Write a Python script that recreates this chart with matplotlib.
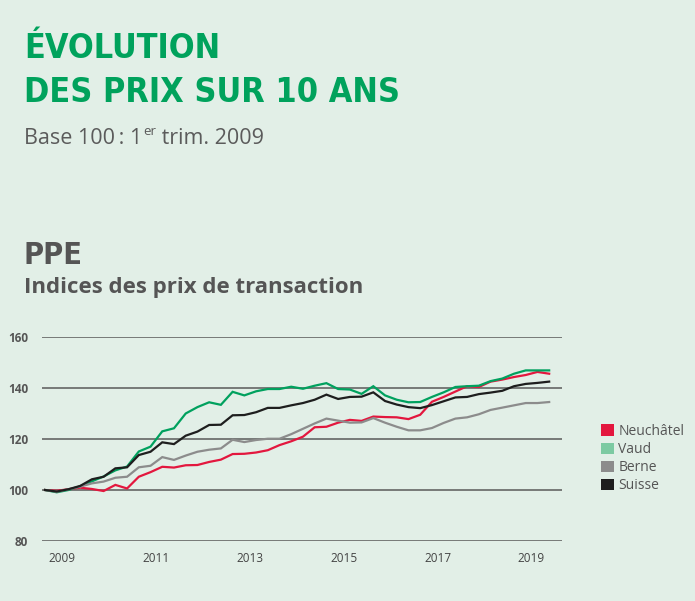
import numpy as np
import matplotlib.pyplot as plt
from matplotlib.patches import Patch
from matplotlib import font_manager

# Indices trimestriels, base 100 au 1er trim. 2009 (2009 T1 -> 2019 T4)
start_year = 2009
neuchatel = [100.0, 99.7, 100.3, 100.9, 100.4, 99.6, 102.0, 100.6, 105.2, 107.0,
             109.1, 108.8, 109.7, 109.8, 111.0, 111.9, 114.1, 114.2, 114.7, 115.6,
             117.6, 119.1, 120.9, 124.6, 124.8, 126.4, 127.5, 127.1, 128.8, 128.6,
             128.5, 127.8, 129.5, 134.6, 136.5, 138.6, 140.7, 140.4, 142.5, 143.3,
             144.3, 145.1, 146.3, 145.6]
vaud = [100.0, 99.1, 100.0, 101.5, 103.4, 105.3, 107.7, 109.2, 115.1, 117.0,
        123.0, 124.2, 130.0, 132.5, 134.4, 133.4, 138.5, 137.1, 138.7, 139.6,
        139.6, 140.5, 139.7, 140.9, 141.9, 139.6, 139.4, 137.7, 140.7, 137.1,
        135.4, 134.4, 134.5, 136.5, 138.3, 140.4, 140.7, 140.9, 142.7, 143.7,
        145.6, 146.9, 146.9, 146.9]
berne = [100.0, 99.3, 100.3, 101.3, 102.6, 103.3, 104.8, 105.2, 108.9, 109.5,
         112.9, 111.8, 113.5, 115.0, 115.8, 116.3, 119.7, 118.8, 119.6, 120.1,
         120.1, 121.9, 124.0, 126.1, 128.0, 127.2, 126.4, 126.5, 128.2, 126.4,
         124.8, 123.4, 123.4, 124.3, 126.3, 128.0, 128.5, 129.7, 131.4, 132.3,
         133.2, 134.1, 134.1, 134.5]
suisse = [100.0, 99.4, 100.3, 101.6, 104.2, 105.2, 108.5, 108.9, 113.7, 115.0,
          118.7, 118.0, 121.3, 122.9, 125.5, 125.6, 129.3, 129.4, 130.5, 132.2,
          132.2, 133.2, 134.1, 135.4, 137.4, 135.7, 136.5, 136.6, 138.3, 134.9,
          133.5, 132.5, 132.1, 133.3, 134.8, 136.3, 136.5, 137.6, 138.2, 138.9,
          140.7, 141.6, 142.0, 142.5]

labels = ['Neuchâtel', 'Vaud', 'Berne', 'Suisse']
years_shown = [2009, 2011, 2013, 2015, 2017, 2019]
y_ticks = [80, 100, 120, 140, 160]

# couleurs
BG = '#e2efe7'
GREEN_TITLE = '#00a25c'
GREY_TEXT = '#5b5b5b'
line_colors = ['#e3173e', '#00a15e', '#8c8c8c', '#1e1e1e']
legend_colors = ['#e3173e', '#7ccaa2', '#8c8c8c', '#1e1e1e']

W, H = 695, 601


def fx(px):
    return px / W


def fy(py):
    return 1 - py / H


def narrow_bold():
    """Cherche une police grasse etroite installee (sinon None)."""
    order = {'ultra-condensed': 0, 'extra-condensed': 1, 'condensed': 2,
             'semi-condensed': 3}
    best = None
    for f in font_manager.fontManager.ttflist:
        st = f.stretch if isinstance(f.stretch, str) else ''
        w = f.weight if isinstance(f.weight, int) else (700 if 'bold' in str(f.weight) else 400)
        narrow = st in order or 'Narrow' in f.name or 'Condensed' in f.name
        if not narrow or w < 600:
            continue
        rank = order.get(st, 2)
        if best is None or rank < best[0]:
            best = (rank, f.fname)
    return best


nb = narrow_bold()
if nb is not None:
    title_fp = dict(fontproperties=font_manager.FontProperties(fname=nb[1]))
    title_size, ppe_size = 24.5, 22
else:
    title_fp = dict(family=['DejaVu Sans'], weight='bold')
    title_size, ppe_size = 21, 20

body_font = ['Open Sans', 'DejaVu Sans']

fig = plt.figure(figsize=(W / 100, H / 100), dpi=100, facecolor=BG)

# --- Titres ---
fig.text(fx(24), fy(58), 'ÉVOLUTION', fontsize=title_size, color=GREEN_TITLE,
         va='baseline', **title_fp)
fig.text(fx(24), fy(102), 'DES PRIX SUR 10 ANS', fontsize=title_size,
         color=GREEN_TITLE, va='baseline', **title_fp)

t1 = fig.text(fx(24), fy(144), 'Base 100\u2009: 1', family=body_font,
              fontsize=15.5, color=GREY_TEXT, va='baseline')
t2 = fig.text(0, 0, 'er', family=body_font, fontsize=9.5, color=GREY_TEXT,
              va='bottom', ha='left')
t3 = fig.text(0, 0, ' trim. 2009', family=body_font, fontsize=15.5,
              color=GREY_TEXT, va='baseline', ha='left')

fig.text(fx(24), fy(264), 'PPE', fontsize=ppe_size, color='#555555',
         va='baseline', **title_fp)
fig.text(fx(24), fy(293), 'Indices des prix de transaction', family=body_font,
         weight='bold', fontsize=16, color='#555555', va='baseline')

# --- Graphique ---
ax = fig.add_axes([fx(42), fy(541), fx(562) - fx(42), fy(337) - fy(541)])
ax.set_facecolor(BG)

x = start_year + np.arange(len(neuchatel)) / 4
series = [neuchatel, vaud, berne, suisse]
for vals, c, lab in zip(series, line_colors, labels):
    ax.plot(x, vals, color=c, linewidth=1.6, label=lab, zorder=3,
            solid_joinstyle='miter')

ax.set_ylim(80, 160)
ax.set_xlim(start_year - 3 / 46.9, start_year + 517 / 46.9)
ax.set_yticks(y_ticks)
ax.yaxis.grid(True, color='#5a5a5a', linewidth=1.1)
ax.set_axisbelow(True)
for s in ax.spines.values():
    s.set_visible(False)

ax.set_xticks([yr + 0.37 for yr in years_shown])
ax.set_xticklabels([str(yr) for yr in years_shown], family=body_font,
                   fontsize=8.5, color='#444444')
ax.set_yticklabels([str(v) for v in y_ticks], family=body_font,
                   fontsize=8.5, weight='bold', color='#555555')
ax.tick_params(axis='both', length=0)
ax.tick_params(axis='y', pad=10)
ax.tick_params(axis='x', pad=8)

handles = [Patch(facecolor=c, edgecolor='none') for c in legend_colors]
fig.legend(handles, labels, loc='upper left', bbox_to_anchor=(fx(601), fy(424)),
           frameon=False, handlelength=0.9, handleheight=0.9, handletextpad=0.35,
           labelspacing=0.22, borderpad=0, borderaxespad=0,
           prop={'family': body_font, 'size': 10}, labelcolor='#555555')

# exposant "er" place juste apres le texte de base
fig.canvas.draw()
r = fig.canvas.get_renderer()
bb1 = t1.get_window_extent(r).transformed(fig.transFigure.inverted())
t2.set_position((bb1.x1 + 0.001, fy(144) + 0.01))
bb2 = t2.get_window_extent(r).transformed(fig.transFigure.inverted())
t3.set_position((bb2.x1, fy(144)))

fig.savefig('out.png', dpi=100, facecolor=BG)
